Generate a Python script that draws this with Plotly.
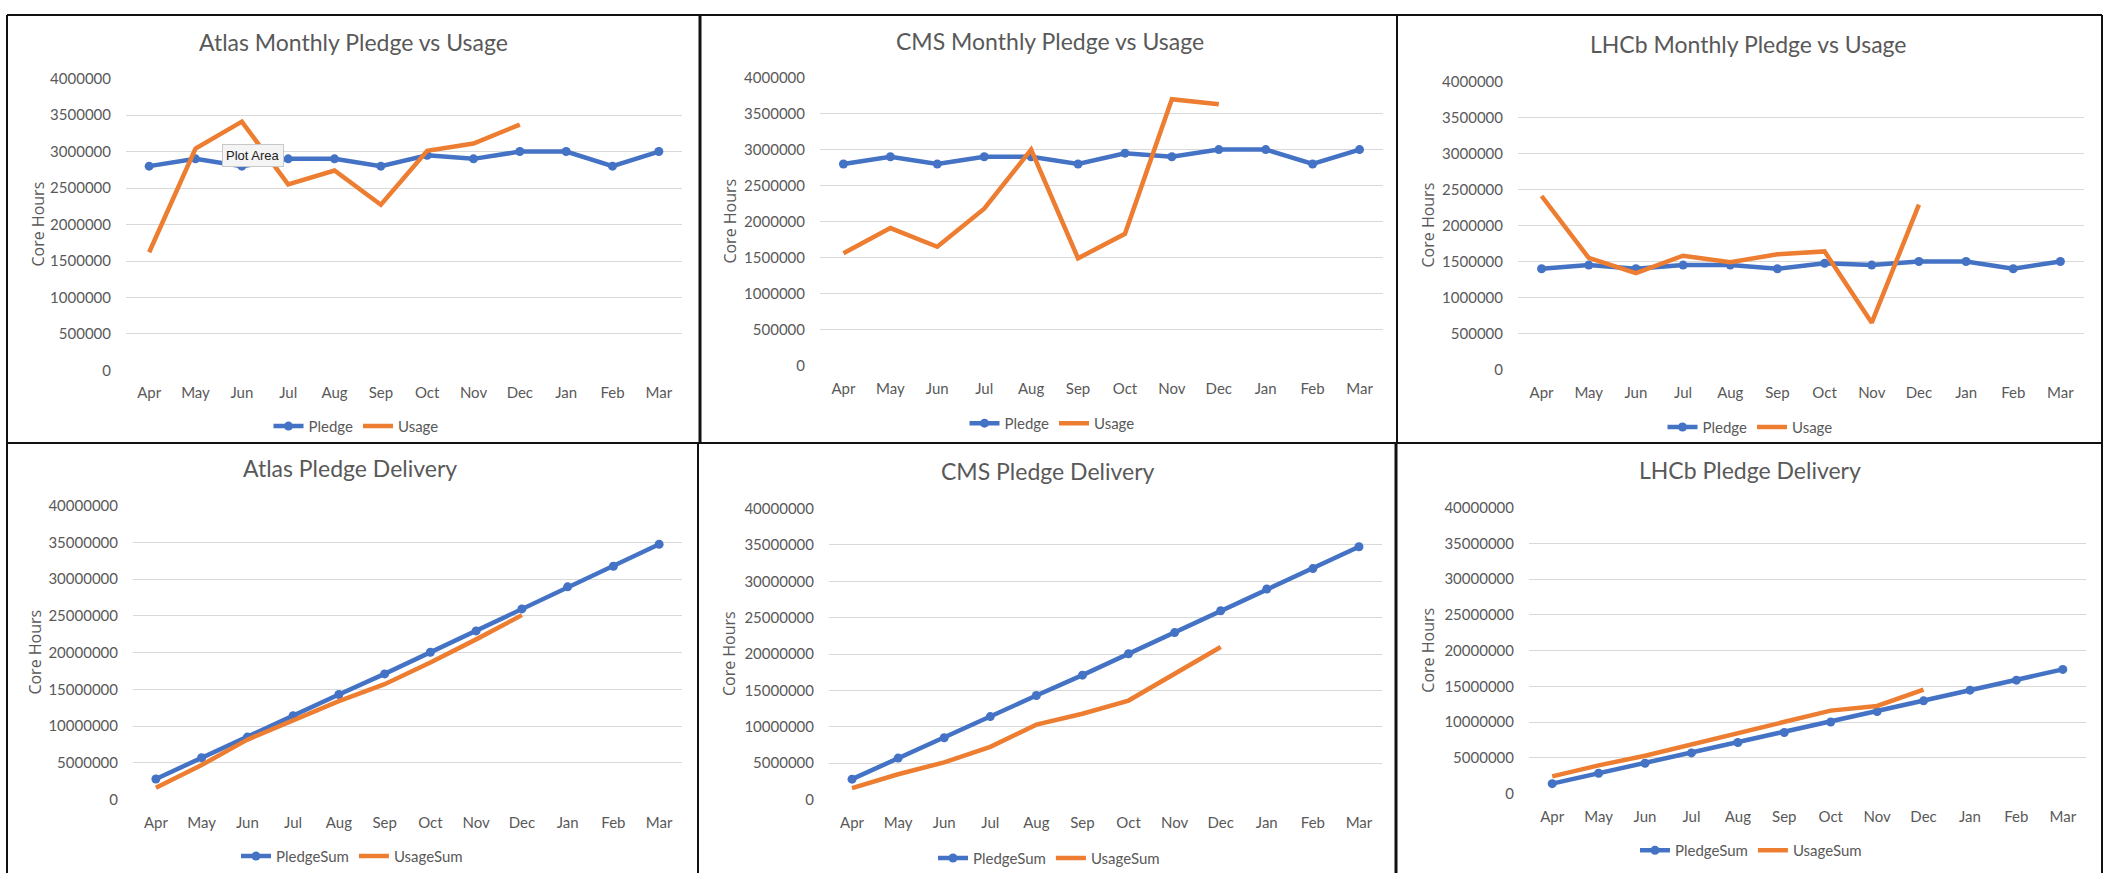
import plotly.graph_objects as go

W, H = 2109, 881

months = ["Apr", "May", "Jun", "Jul", "Aug", "Sep", "Oct", "Nov", "Dec", "Jan", "Feb", "Mar"]

atlas_pledge = [2800000, 2900000, 2800000, 2900000, 2900000, 2800000, 2950000, 2900000, 3000000, 3000000, 2800000, 3000000]
atlas_usage = [1620000, 3040000, 3410000, 2550000, 2740000, 2270000, 3010000, 3110000, 3370000]
cms_pledge = [2800000, 2900000, 2800000, 2900000, 2900000, 2800000, 2950000, 2900000, 3000000, 3000000, 2800000, 3000000]
cms_usage = [1560000, 1910000, 1650000, 2180000, 3000000, 1490000, 1830000, 3700000, 3630000]
lhcb_pledge = [1400000, 1450000, 1400000, 1450000, 1450000, 1400000, 1475000, 1450000, 1500000, 1500000, 1400000, 1500000]
lhcb_usage = [2410000, 1550000, 1340000, 1580000, 1490000, 1600000, 1640000, 650000, 2290000]

atlas_pledge_sum = [2800000, 5700000, 8500000, 11400000, 14300000, 17100000, 20050000, 22950000, 25950000, 28950000, 31750000, 34750000]
atlas_usage_sum = [1600000, 4700000, 8150000, 10700000, 13400000, 15700000, 18650000, 21800000, 25100000]
cms_pledge_sum = [2800000, 5700000, 8500000, 11400000, 14300000, 17100000, 20050000, 22950000, 25950000, 28950000, 31750000, 34750000]
cms_usage_sum = [1580000, 3480000, 5110000, 7250000, 10300000, 11790000, 13610000, 17350000, 20980000]
lhcb_pledge_sum = [1400000, 2850000, 4250000, 5700000, 7150000, 8550000, 10025000, 11475000, 12975000, 14475000, 15875000, 17375000]
lhcb_usage_sum = [2410000, 3960000, 5300000, 6880000, 8370000, 9970000, 11610000, 12260000, 14550000]

monthly_ticks = [0, 500000, 1000000, 1500000, 2000000, 2500000, 3000000, 3500000, 4000000]
sum_ticks = [0, 5000000, 10000000, 15000000, 20000000, 25000000, 30000000, 35000000, 40000000]

BLUE = "#4472C4"
ORANGE = "#ED7D31"
GRID = "#D9D9D9"
TXT = "#595959"
FONT = "Lato, Liberation Sans, sans-serif"


def px(x):
    return x / W


def py(y):
    return 1 - y / H


panels = [
    dict(title="Atlas Monthly Pledge vs Usage", p=atlas_pledge, u=atlas_usage, names=("Pledge", "Usage"),
         ticks=monthly_ticks, box=(126, 682, 70, 368), tpos=(353, 33), leg=(356, 425), ytx=38),
    dict(title="CMS Monthly Pledge vs Usage", p=cms_pledge, u=cms_usage, names=("Pledge", "Usage"),
         ticks=monthly_ticks, box=(820, 1383, 69, 363), tpos=(1050, 32), leg=(1052, 422), ytx=730),
    dict(title="LHCb Monthly Pledge vs Usage", p=lhcb_pledge, u=lhcb_usage, names=("Pledge", "Usage"),
         ticks=monthly_ticks, box=(1518, 2084, 73, 367), tpos=(1748, 35), leg=(1750, 426), ytx=1428),
    dict(title="Atlas Pledge Delivery", p=atlas_pledge_sum, u=atlas_usage_sum, names=("PledgeSum", "UsageSum"),
         ticks=sum_ticks, box=(133, 682, 506, 806), tpos=(350, 468), leg=(352, 864), ytx=35),
    dict(title="CMS Pledge Delivery", p=cms_pledge_sum, u=cms_usage_sum, names=("PledgeSum", "UsageSum"),
         ticks=sum_ticks, box=(829, 1382, 509, 806), tpos=(1048, 471), leg=(1049, 866), ytx=729),
    dict(title="LHCb Pledge Delivery", p=lhcb_pledge_sum, u=lhcb_usage_sum, names=("PledgeSum", "UsageSum"),
         ticks=sum_ticks, box=(1529, 2086, 508, 800), tpos=(1750, 470), leg=(1751, 858), ytx=1428),
]

fig = go.Figure()
annotations = []
layout = {}

for i, pn in enumerate(panels, start=1):
    sfx = "" if i == 1 else str(i)
    xa, ya = "x" + sfx, "y" + sfx
    leg = "legend" + sfx
    l, r, t, b = pn["box"]
    fig.add_trace(go.Scatter(
        x=months, y=pn["p"], name=pn["names"][0], mode="lines+markers",
        line=dict(color=BLUE, width=4.5), marker=dict(color=BLUE, size=9),
        xaxis=xa, yaxis=ya, legend=leg))
    fig.add_trace(go.Scatter(
        x=months[:len(pn["u"])], y=pn["u"], name=pn["names"][1], mode="lines",
        line=dict(color=ORANGE, width=4.5),
        xaxis=xa, yaxis=ya, legend=leg))
    layout["xaxis" + sfx] = dict(
        domain=[px(l), px(r)], anchor=ya, type="category", categoryorder="array",
        categoryarray=months, range=[-0.5, 11.5], showgrid=False, zeroline=False,
        showline=False, ticks="", ticklabelstandoff=12,
        tickfont=dict(family=FONT, size=15, color=TXT), fixedrange=True)
    layout["yaxis" + sfx] = dict(
        domain=[py(b), py(t)], anchor=xa, range=[0, pn["ticks"][-1]],
        tickmode="array", tickvals=pn["ticks"], ticktext=[str(v) for v in pn["ticks"]],
        showgrid=True, gridcolor=GRID, gridwidth=1.3, zeroline=False, showline=False,
        ticks="", ticklabelstandoff=14,
        tickfont=dict(family=FONT, size=15, color=TXT), fixedrange=True)
    layout[leg] = dict(
        x=px(pn["leg"][0]), y=py(pn["leg"][1]), xanchor="center", yanchor="middle",
        orientation="h", bgcolor="rgba(0,0,0,0)", font=dict(family=FONT, size=15, color=TXT),
        itemwidth=30, tracegroupgap=0)
    annotations.append(dict(
        text=pn["title"], x=px(pn["tpos"][0]), y=py(pn["tpos"][1]), xref="paper", yref="paper",
        xanchor="center", yanchor="middle", showarrow=False,
        font=dict(family=FONT, size=23, color=TXT)))
    annotations.append(dict(
        text="Core Hours", x=px(pn["ytx"]), y=py((t + b) / 2), xref="paper", yref="paper",
        xanchor="center", yanchor="middle", showarrow=False, textangle=-90,
        font=dict(family="Open Sans, sans-serif", size=16, color=TXT)))

# tooltip visible in the reference screenshot
annotations.append(dict(
    text="Plot Area", x=px(253), y=py(149), xref="paper", yref="paper",
    xanchor="center", yanchor="middle", showarrow=False,
    bgcolor="#F4F4F4", bordercolor="#C8C8C8", borderwidth=1, borderpad=3,
    font=dict(family="Liberation Sans, sans-serif", size=13, color="#222222")))


def seg(x0, y0, x1, y1, w=2):
    return dict(type="line", xref="paper", yref="paper", x0=px(x0), y0=py(y0), x1=px(x1), y1=py(y1),
                line=dict(color="#111111", width=w))


shapes = [
    seg(7, 5, 2102, 5),
    seg(7, 442, 2102, 442),
    seg(7, 5, 7, 881),
    seg(2102, 5, 2102, 881),
    seg(700, 5, 700, 442, 3),
    seg(698, 442, 698, 881),
    seg(1397, 5, 1397, 442),
    seg(1396, 442, 1396, 881, 3),
]

fig.update_layout(
    width=W, height=H, autosize=False,
    margin=dict(l=0, r=0, t=0, b=0),
    paper_bgcolor="white", plot_bgcolor="white",
    showlegend=True,
    annotations=annotations, shapes=shapes,
    hovermode=False,
    **layout,
)

fig.write_html("out.html", config={"displayModeBar": False, "staticPlot": False},
               post_script="document.body.style.margin='0';document.body.style.overflow='hidden';")
